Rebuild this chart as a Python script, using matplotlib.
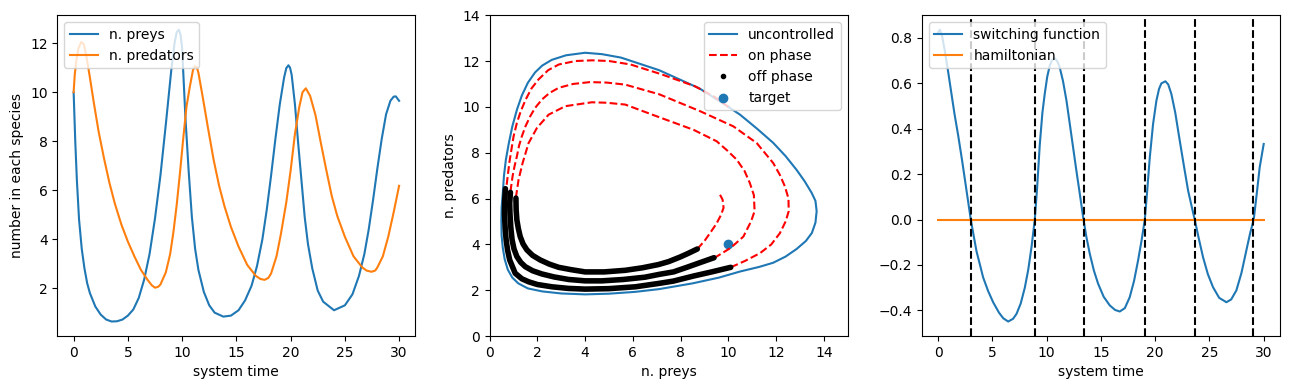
import matplotlib
matplotlib.use('Agg')
import matplotlib.pyplot as plt

# time series
t_prey = [0, 0.15, 0.3, 0.5, 0.75, 1.0, 1.25, 1.5, 2.0, 2.5, 3.0, 3.5, 4.0, 4.5, 5.0, 5.5, 6.0, 6.5, 7.0,
          7.5, 8.0, 8.5, 9.0, 9.3, 9.5, 9.7, 9.85, 10.0, 10.3, 10.6, 10.9, 11.2, 11.5, 12.0, 12.5, 13.0, 13.8,
          14.5, 15.2, 15.8, 16.4, 16.9, 17.4, 17.8, 18.2, 18.6, 19.0, 19.4, 19.6, 19.8, 19.95, 20.1, 20.4,
          20.7, 21.0, 21.3, 21.6, 22.0, 22.5, 23.0, 24.0, 25.0, 25.7, 26.3, 26.8, 27.2, 27.6, 28.0, 28.4,
          28.8, 29.2, 29.5, 29.7, 30.0]
preys = [10.0, 8.0, 6.4, 4.8, 3.6, 2.8, 2.2, 1.8, 1.25, 0.92, 0.72, 0.64, 0.65, 0.72, 0.88, 1.13, 1.6, 2.35,
         3.4, 4.85, 6.6, 8.7, 10.9, 12.0, 12.45, 12.55, 12.35, 11.8, 9.0, 6.8, 4.9, 3.6, 2.75, 1.85, 1.3,
         1.0, 0.84, 0.88, 1.1, 1.5, 2.1, 2.9, 4.0, 5.2, 6.6, 8.1, 9.5, 10.6, 10.98, 11.1, 11.0, 10.7, 9.5,
         7.9, 6.4, 4.9, 3.8, 2.8, 1.9, 1.45, 1.1, 1.3, 1.75, 2.5, 3.4, 4.4, 5.6, 6.9, 8.1, 9.1, 9.65, 9.82,
         9.83, 9.65]

t_pred = [0, 0.1, 0.25, 0.45, 0.7, 0.95, 1.2, 1.5, 1.85, 2.3, 2.8, 3.3, 3.8, 4.4, 5.0, 5.6, 6.2, 6.8, 7.2,
          7.5, 7.8, 8.0, 8.5, 8.9, 9.2, 9.5, 9.8, 10.1, 10.4, 10.7, 11.0, 11.2, 11.35, 11.5, 11.9, 12.4,
          12.9, 13.4, 13.9, 14.5, 15.2, 16.0, 16.8, 17.2, 17.6, 17.95, 18.2, 18.7, 19.1, 19.6, 20.0, 20.4,
          20.8, 21.1, 21.4, 21.8, 22.3, 22.8, 23.3, 23.8, 24.3, 25.0, 25.8, 26.6, 27.0, 27.45, 27.8, 28.0,
          28.5, 29.0, 29.5, 30.0]
predators = [10.0, 10.7, 11.3, 11.8, 12.05, 11.95, 11.4, 10.6, 9.6, 8.4, 7.3, 6.3, 5.45, 4.6, 3.9, 3.3,
             2.75, 2.35, 2.12, 2.02, 2.06, 2.15, 2.65, 3.4, 4.3, 5.4, 6.7, 8.1, 9.4, 10.2, 10.9, 11.07,
             11.02, 10.8, 9.8, 8.5, 7.25, 6.2, 5.35, 4.5, 3.7, 2.95, 2.5, 2.38, 2.34, 2.42, 2.6, 3.3, 4.2,
             5.5, 6.8, 8.3, 9.4, 10.0, 10.16, 9.85, 9.05, 7.9, 6.8, 5.75, 4.95, 4.1, 3.3, 2.85, 2.72, 2.67,
             2.72, 2.85, 3.3, 4.1, 5.1, 6.18]

# phase plane
unc_prey = [10.0, 8.8, 7.1, 5.5, 4.7, 4.0, 3.2, 2.6, 2.2, 1.9, 1.6, 1.35, 1.15, 0.95, 0.8, 0.68, 0.6, 0.55,
            0.5, 0.49, 0.5, 0.55, 0.63, 0.76, 0.95, 1.2, 1.6, 2.2, 3.0, 4.0, 5.0, 6.1, 7.1, 8.5, 9.6, 10.5,
            11.3, 11.88, 12.4, 12.86, 13.25, 13.5, 13.65, 13.7, 13.65, 13.49, 13.2, 12.86, 12.4, 11.88,
            11.2, 10.49, 10.0]
unc_pred = [10.0, 10.8, 11.6, 12.15, 12.3, 12.36, 12.25, 12.05, 11.8, 11.5, 11.05, 10.5, 9.9, 9.15, 8.4,
            7.7, 7.0, 6.25, 5.6, 5.0, 4.4, 3.85, 3.35, 2.9, 2.55, 2.3, 2.08, 1.95, 1.86, 1.82, 1.85, 1.93,
            2.05, 2.3, 2.55, 2.82, 3.02, 3.2, 3.47, 3.8, 4.15, 4.5, 4.95, 5.45, 5.9, 6.25, 6.75, 7.25, 7.85,
            8.43, 9.05, 9.66, 10.0]

on_prey = [
    [10.0, 9.4, 8.6, 7.2, 5.9, 5.0, 4.3, 3.6, 2.9, 2.45, 2.05, 1.75, 1.5, 1.3, 1.14, 1.0, 0.91, 0.83, 0.77, 0.69],
    [10.1, 10.7, 11.33, 11.8, 12.16, 12.4, 12.53, 12.52, 12.37, 12.15, 11.88, 11.19, 10.21, 8.82, 7.1, 5.68,
     4.9, 4.2, 3.5, 2.89, 2.5, 2.19, 1.9, 1.7, 1.5, 1.35, 1.23, 1.14, 1.04, 0.96, 0.87],
    [9.4, 10.1, 10.63, 10.95, 11.1, 11.07, 10.9, 10.68, 10.35, 9.95, 9.51, 8.54, 7.1, 5.68, 4.9, 4.28, 3.17,
     2.47, 1.98, 1.63, 1.38, 1.21, 1.1],
    [8.7, 9.0, 9.23, 9.5, 9.7, 9.8, 9.76, 9.65],
]
on_pred = [
    [10.0, 10.45, 10.9, 11.42, 11.85, 12.0, 12.03, 12.0, 11.85, 11.6, 11.2, 10.8, 10.3, 9.8, 9.3, 8.7, 8.13, 7.6, 7.1, 6.4],
    [3.0, 3.28, 3.62, 4.0, 4.49, 5.0, 5.45, 6.0, 6.53, 7.05, 7.55, 8.42, 9.15, 9.81, 10.55, 10.97, 11.06,
     11.08, 11.0, 10.83, 10.6, 10.32, 9.95, 9.59, 9.15, 8.72, 8.3, 7.84, 7.4, 6.97, 6.3],
    [3.4, 3.85, 4.34, 5.0, 5.45, 6.15, 6.68, 7.2, 7.7, 8.1, 8.5, 9.0, 9.55, 10.1, 10.18, 10.2, 10.03, 9.66,
     9.08, 8.42, 7.55, 6.82, 6.05],
    [3.8, 4.15, 4.49, 4.9, 5.3, 5.6, 5.95, 6.17],
]

off_prey = [
    [0.66, 0.63, 0.62, 0.65, 0.69, 0.75, 0.84, 1.07, 1.35, 1.63, 2.0, 2.61, 3.3, 4.0, 5.0, 6.1, 7.1, 7.7,
     8.54, 9.3, 10.1],
    [0.87, 0.84, 0.85, 0.89, 0.94, 1.02, 1.14, 1.3, 1.49, 1.8, 2.19, 2.7, 3.31, 4.0, 4.7, 5.6, 6.51, 7.14,
     7.7, 8.26, 8.8, 9.4],
    [1.1, 1.11, 1.14, 1.2, 1.28, 1.4, 1.56, 1.8, 2.12, 2.5, 2.89, 3.4, 4.0, 4.8, 5.68, 6.4, 7.07, 7.5, 7.98,
     8.3, 8.7],
]
off_pred = [
    [6.43, 5.9, 5.36, 4.7, 4.2, 3.75, 3.32, 2.74, 2.5, 2.37, 2.25, 2.15, 2.08, 2.05, 2.07, 2.15, 2.3, 2.4,
     2.62, 2.8, 3.0],
    [6.27, 5.8, 5.36, 4.7, 4.2, 3.8, 3.47, 3.22, 3.03, 2.85, 2.71, 2.58, 2.47, 2.41, 2.41, 2.47, 2.57, 2.7,
     2.8, 3.0, 3.2, 3.42],
    [6.02, 5.5, 5.07, 4.7, 4.34, 4.02, 3.76, 3.52, 3.32, 3.14, 3.0, 2.9, 2.8, 2.8, 2.87, 2.98, 3.12, 3.25,
     3.45, 3.6, 3.8],
]

target = (10, 4)

# switching function
t_sw = [0.0, 0.15, 0.35, 0.6, 0.9, 1.2, 1.5, 1.84, 2.2, 2.6, 3.0, 3.3, 3.53, 3.85, 4.14, 4.6, 5.07, 5.6,
        6.0, 6.45, 6.9, 7.22, 7.6, 7.98, 8.3, 8.6, 8.9, 9.1, 9.36, 9.6, 9.82, 10.05, 10.29, 10.5, 10.75,
        11.0, 11.2, 11.5, 11.82, 12.1, 12.43, 12.75, 13.05, 13.39, 13.65, 13.97, 14.35, 14.74, 15.25,
        15.81, 16.3, 16.73, 17.2, 17.65, 18.05, 18.42, 18.75, 19.04, 19.25, 19.5, 19.8, 20.11, 20.35,
        20.57, 20.94, 21.2, 21.49, 21.85, 22.26, 22.65, 23.03, 23.35, 23.64, 24.0, 24.41, 24.85, 25.33,
        25.9, 26.56, 27.0, 27.48, 27.95, 28.4, 28.75, 29.08, 29.35, 29.63, 30.0]
switching = [0.825, 0.836, 0.81, 0.745, 0.655, 0.56, 0.465, 0.37, 0.26, 0.13, 0.0, -0.08, -0.14, -0.2,
             -0.255, -0.315, -0.365, -0.41, -0.435, -0.449, -0.437, -0.415, -0.37, -0.3, -0.22, -0.12, 0.0,
             0.13, 0.33, 0.47, 0.555, 0.63, 0.68, 0.703, 0.711, 0.695, 0.67, 0.61, 0.524, 0.43, 0.318,
             0.21, 0.113, 0.0, -0.075, -0.151, -0.225, -0.283, -0.34, -0.378, -0.398, -0.405, -0.39,
             -0.342, -0.27, -0.18, -0.09, 0.0, 0.12, 0.274, 0.42, 0.524, 0.575, 0.6, 0.609, 0.595, 0.553,
             0.47, 0.348, 0.235, 0.128, 0.06, 0.0, -0.08, -0.166, -0.24, -0.298, -0.345, -0.364, -0.352,
             -0.312, -0.235, -0.136, -0.06, 0.0, 0.11, 0.23, 0.333]
t_ham = [0.0, 30.0]
hamiltonian = [0.0, 0.0]
switch_times = [3.0, 8.9, 13.4, 19.05, 23.65, 29.05]

fig, axs = plt.subplots(1, 3, figsize=(12.89, 3.89), dpi=100)
fig.subplots_adjust(left=0.0445, right=0.993, bottom=0.136, top=0.961, wspace=0.2075)

ax = axs[0]
ax.plot(t_prey, preys, label='n. preys')
ax.plot(t_pred, predators, label='n. predators')
ax.set_xlabel('system time')
ax.set_ylabel('number in each species')
ax.legend(loc='upper left')

ax = axs[1]
ax.plot(unc_prey, unc_pred, label='uncontrolled')
for i in range(len(on_prey)):
    ax.plot(on_prey[i], on_pred[i], 'r--', label='on phase' if i == 0 else None)
for i in range(len(off_prey)):
    ax.plot(off_prey[i], off_pred[i], color='k', lw=4.0, solid_capstyle='round', solid_joinstyle='round')
ax.plot([], [], 'k.', label='off phase')
ax.scatter([target[0]], [target[1]], label='target')
ax.set_xlim(0, 15)
ax.set_ylim(0, 14)
ax.set_xlabel('n. preys')
ax.set_ylabel('n. predators')
ax.legend(loc='upper right')

ax = axs[2]
ax.plot(t_sw, switching, label='switching function')
ax.plot(t_ham, hamiltonian, label='hamiltonian')
for ts in switch_times:
    ax.axvline(ts, color='k', linestyle='--')
ax.set_xlabel('system time')
ax.legend(loc='upper left')

fig.savefig('out.png')
